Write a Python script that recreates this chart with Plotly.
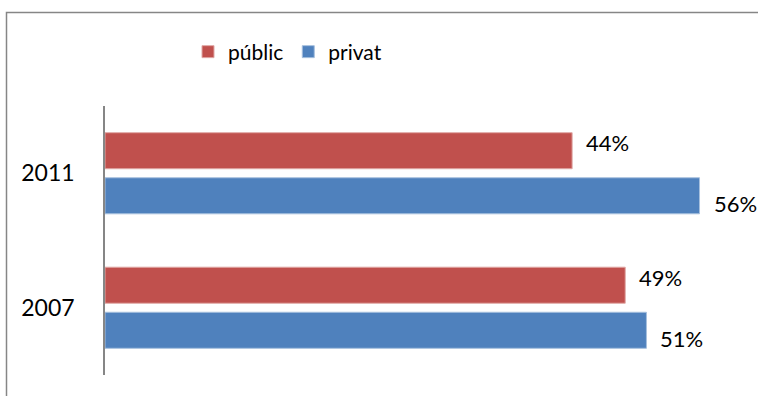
import plotly.graph_objects as go

years = ["2007", "2011"]
public_vals = [49, 44]
private_vals = [51, 56]
series_names = ["públic", "privat"]

RED = "#C0504D"
BLUE = "#4F81BD"
FONT = "Lato"

fig = go.Figure()
fig.add_trace(go.Bar(
    y=years, x=private_vals, orientation="h", name=series_names[1],
    marker=dict(color=BLUE, line=dict(color="#A7C0DE", width=1)),
    legendrank=2,
))
fig.add_trace(go.Bar(
    y=years, x=public_vals, orientation="h", name=series_names[0],
    marker=dict(color=RED, line=dict(color="#E0A8A6", width=1)),
    legendrank=1,
))

# data labels
for vals, off in ((private_vals, -0.225), (public_vals, 0.225)):
    for i, v in enumerate(vals):
        fig.add_annotation(
            x=v, y=i + off, xref="x", yref="y", text=f"{v}%",
            showarrow=False, xanchor="left", xshift=12,
            font=dict(family=FONT, size=22, color="#000000"),
        )

L, R, T, B = 105, 16, 106, 21
W, H = 758, 396
pw, ph = W - L - R, H - T - B

# chart border
fig.add_shape(
    type="rect", xref="paper", yref="paper",
    x0=(6.5 - L) / pw, x1=1.2, y0=-0.3, y1=1 + (T - 12.5) / ph,
    line=dict(color="#868686", width=1.5), fillcolor="rgba(0,0,0,0)", layer="below",
)

fig.update_layout(
    width=W, height=H,
    margin=dict(l=L, r=R, t=T, b=B),
    paper_bgcolor="white", plot_bgcolor="white",
    barmode="group", bargap=0.33, bargroupgap=0.2,
    font=dict(family=FONT, size=23, color="#000000"),
    showlegend=True,
    legend=dict(
        orientation="h", x=(188 - L) / pw, xanchor="left",
        y=1 + (T - 52) / ph, yanchor="middle",
        font=dict(family=FONT, size=21), itemwidth=30,
        bgcolor="rgba(0,0,0,0)", traceorder="normal",
    ),
    xaxis=dict(range=[0, 60], showgrid=False, zeroline=False,
               showticklabels=False, showline=False, ticks=""),
    yaxis=dict(showgrid=False, zeroline=False, showline=True,
               linecolor="#868686", linewidth=1.5, ticks="",
               ticklabelstandoff=24, tickfont=dict(family=FONT, size=23)),
)

fig.write_html("out.html")
